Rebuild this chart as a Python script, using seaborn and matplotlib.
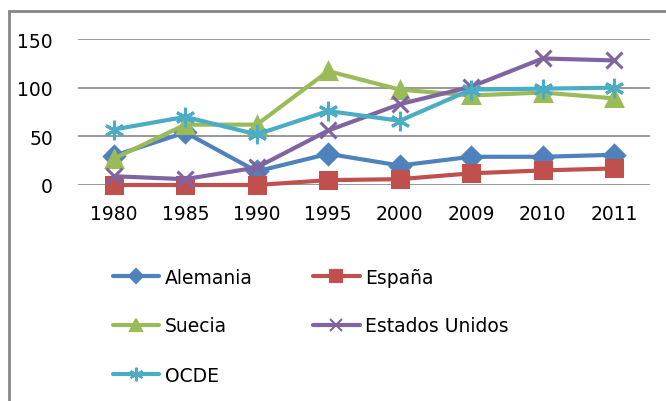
import matplotlib
matplotlib.use("Agg")
import matplotlib.pyplot as plt
import seaborn as sns
import pandas as pd
from matplotlib.lines import Line2D

# values
years = ["1980", "1985", "1990", "1995", "2000", "2009", "2010", "2011"]
alemania = [30, 54, 14, 32, 20, 29, 29, 31]
espana = [0, 0, 0, 5, 6, 12, 15, 17]
suecia = [27, 62, 62, 117, 98, 92, 95, 89]
eeuu = [9, 6, 18, 56, 83, 101, 130, 128]
ocde = [57, 70, 52, 76, 66, 98, 99, 100]

series = {
    "Alemania": alemania,
    "España": espana,
    "Suecia": suecia,
    "Estados Unidos": eeuu,
    "OCDE": ocde,
}
colors = {
    "Alemania": "#4F81BD",
    "España": "#C0504D",
    "Suecia": "#9BBB59",
    "Estados Unidos": "#8064A2",
    "OCDE": "#4BACC6",
}
markers = {
    "Alemania": "D",
    "España": "s",
    "Suecia": "^",
    "Estados Unidos": "x",
    "OCDE": (6, 2, 0),
}
msizes = {"Alemania": 10, "España": 12, "Suecia": 12, "Estados Unidos": 12, "OCDE": 14}

sns.set_style("white")
plt.rcParams["font.family"] = ["DejaVu Sans"]
plt.rcParams["text.color"] = "black"
plt.rcParams["xtick.color"] = "black"
plt.rcParams["ytick.color"] = "black"

fig = plt.figure(figsize=(6.66, 4.02), dpi=100)
ax = fig.add_axes([78 / 666, 1 - 186 / 402, (650 - 78) / 666, (186 - 40) / 402])

pos = list(range(len(years)))
handles = {}
for name, vals in series.items():
    df = pd.DataFrame({"x": pos, "y": vals})
    sns.lineplot(data=df, x="x", y="y", ax=ax, color=colors[name], linewidth=3,
                 marker=markers[name], markersize=msizes[name],
                 markeredgecolor=colors[name], markeredgewidth=2.2, zorder=3,
                 clip_on=False)
    handles[name] = Line2D([], [], color=colors[name], linewidth=3, marker=markers[name],
                           markersize=msizes[name] * 0.7, markeredgecolor=colors[name],
                           markeredgewidth=1.5)

ax.set_xlim(-0.5, len(years) - 0.5)
ax.set_ylim(0, 150)
ax.set_yticks([0, 50, 100, 150])
ax.set_xticks(pos)
ax.set_xticklabels(years)
ax.set_xlabel("")
ax.set_ylabel("")
ax.grid(axis="y", color="#868686", linewidth=1.2, zorder=0)
ax.set_axisbelow(True)
for s in ax.spines.values():
    s.set_visible(False)
ax.tick_params(axis="both", length=0, labelsize=13.5, colors="black")
ax.tick_params(axis="y", pad=18)
ax.tick_params(axis="x", pad=14)

order = ["Alemania", "Suecia", "OCDE", "España", "Estados Unidos"]
fig.legend([handles[n] for n in order], order, ncol=2, loc="upper left",
           bbox_to_anchor=(105 / 666, 1 - 261 / 402), frameon=False, fontsize=13.5,
           handlelength=2.5, handletextpad=0.3, labelspacing=1.6, columnspacing=3.2,
           borderaxespad=0)

# partial frame of the chart area (top and left edges)
fig.add_artist(Line2D([9 / 666, 1], [1 - 12 / 402, 1 - 12 / 402], transform=fig.transFigure,
                      color="#868686", linewidth=2))
fig.add_artist(Line2D([9 / 666, 9 / 666], [0, 1 - 12 / 402], transform=fig.transFigure,
                      color="#868686", linewidth=2))

fig.savefig("out.png", dpi=100)
